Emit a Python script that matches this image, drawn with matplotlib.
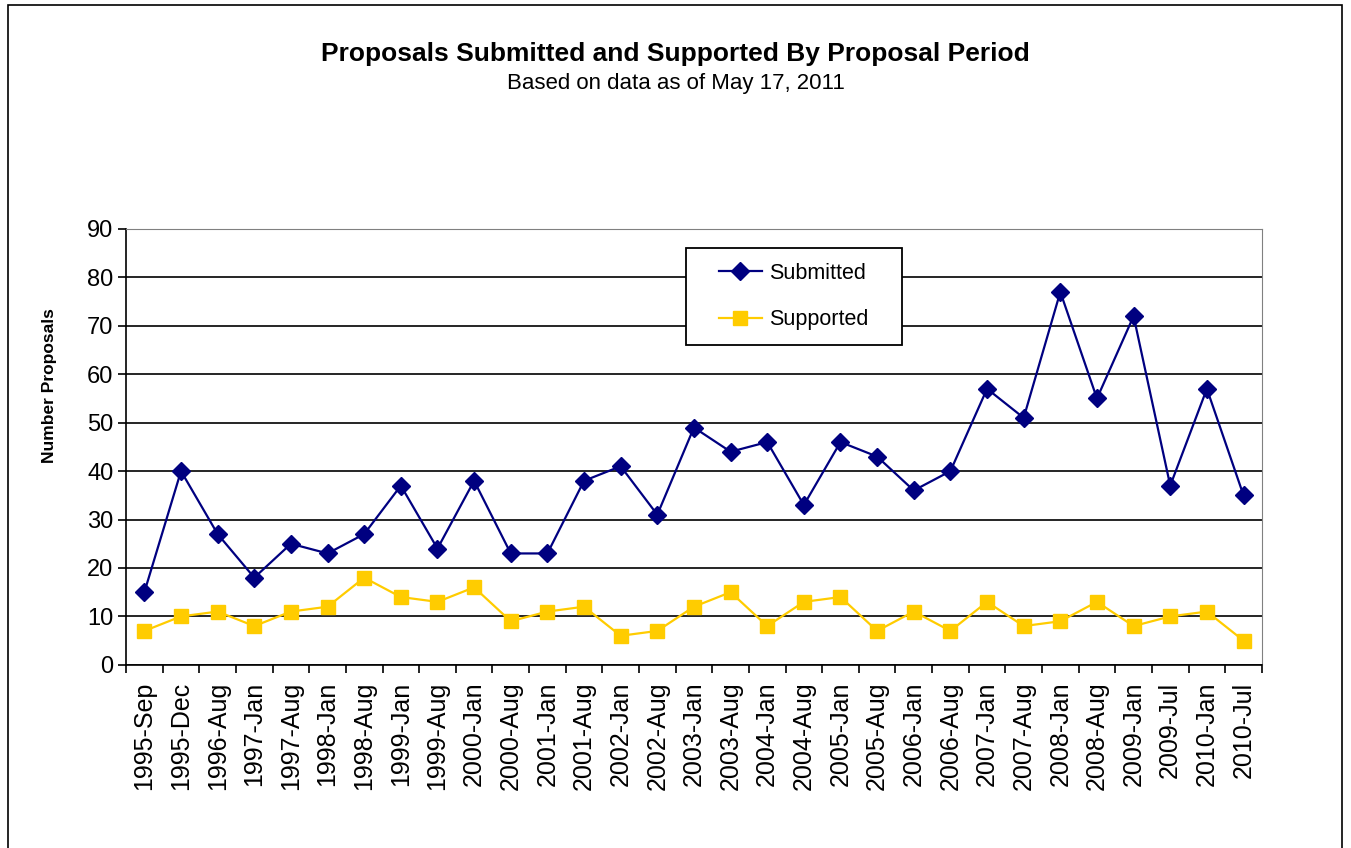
import matplotlib
matplotlib.use("Agg")
import matplotlib.pyplot as plt
import numpy as np
from matplotlib.patches import Rectangle

plt.rcParams['font.family'] = ['Liberation Sans', 'DejaVu Sans']

periods = ['1995-Sep', '1995-Dec', '1996-Aug', '1997-Jan', '1997-Aug', '1998-Jan',
           '1998-Aug', '1999-Jan', '1999-Aug', '2000-Jan', '2000-Aug', '2001-Jan',
           '2001-Aug', '2002-Jan', '2002-Aug', '2003-Jan', '2003-Aug', '2004-Jan',
           '2004-Aug', '2005-Jan', '2005-Aug', '2006-Jan', '2006-Aug', '2007-Jan',
           '2007-Aug', '2008-Jan', '2008-Aug', '2009-Jan', '2009-Jul', '2010-Jan',
           '2010-Jul']
submitted = [15, 40, 27, 18, 25, 23, 27, 37, 24, 38, 23, 23, 38, 41, 31, 49, 44, 46,
             33, 46, 43, 36, 40, 57, 51, 77, 55, 72, 37, 57, 35]
supported = [7, 10, 11, 8, 11, 12, 18, 14, 13, 16, 9, 11, 12, 6, 7, 12, 15, 8,
             13, 14, 7, 11, 7, 13, 8, 9, 13, 8, 10, 11, 5]

fig = plt.figure(figsize=(13.51, 8.48), dpi=100)
# outer chart border
fig.patches.append(Rectangle((0.006, -0.01), 0.987, 1.004, transform=fig.transFigure,
                             fill=False, edgecolor='black', linewidth=1.2))

ax = fig.add_axes([0.0933, 0.216, 0.8407, 0.514])
x = np.arange(len(periods))
ax.plot(x, submitted, color='#000080', marker='D', markersize=9, linewidth=1.6,
        label='Submitted')
ax.plot(x, supported, color='#FFCC00', marker='s', markersize=10, linewidth=1.6,
        label='Supported')

ax.set_xlim(-0.5, len(periods) - 0.5)
ax.set_ylim(0, 90)
ax.set_yticks(range(0, 91, 10))
ax.yaxis.grid(True, color='black', linewidth=1.2)
ax.set_axisbelow(True)

ax.set_xticks(x)
ax.set_xticklabels(periods, rotation=90, fontsize=18)
ax.tick_params(axis='x', which='major', length=0, pad=12)
ax.set_xticks(np.arange(-0.5, len(periods), 1), minor=True)
ax.tick_params(axis='x', which='minor', length=6, direction='out', width=1.2)
ax.tick_params(axis='y', labelsize=17, length=6, width=1.2, pad=3)

ax.spines['left'].set_linewidth(1.2)
ax.spines['bottom'].set_linewidth(1.2)
ax.spines['top'].set_color('#808080')
ax.spines['right'].set_color('#808080')

ax.set_ylabel('Number Proposals', fontsize=12.5, fontweight='bold')
ax.yaxis.set_label_coords(-0.061, 0.64)

# legend box drawn separately so the side margins can be wider than the top ones
ax.add_patch(Rectangle((0.493, 0.734), 0.19, 0.222, transform=ax.transAxes,
                       facecolor='white', edgecolor='black', linewidth=1.3, zorder=4))
leg = ax.legend(loc='center', bbox_to_anchor=(0.588, 0.845), fontsize=15.5,
                frameon=False, labelspacing=1.2, handlelength=2.0,
                handletextpad=0.35, borderaxespad=0)
leg.set_zorder(5)

fig.text(0.5, 0.936, 'Proposals Submitted and Supported By Proposal Period',
         ha='center', va='center', fontsize=19, fontweight='bold')
fig.text(0.5, 0.902, 'Based on data as of May 17, 2011', ha='center', va='center',
         fontsize=16)

fig.savefig('out.png', dpi=100)
